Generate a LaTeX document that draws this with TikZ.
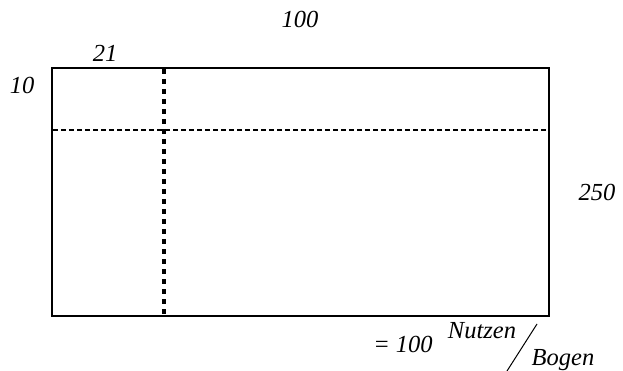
\documentclass[tikz,border=0pt]{standalone}
\usepackage{fontspec}
\setmainfont{Liberation Serif}
\begin{document}
\begin{tikzpicture}[x=1pt,y=-1pt,
  lbl/.style={font=\fontsize{24.5}{26}\selectfont\itshape,inner sep=0pt,anchor=base},
  frame/.style={line width=2pt},
  vcut/.style={line width=3.2pt,dash pattern=on 5pt off 5pt},
  hcut/.style={line width=1.6pt,dash pattern=on 5pt off 3pt}]
\useasboundingbox (0,0) rectangle (623,371);
\coordinate (tl) at (52,68);
\coordinate (br) at (549,316);
\draw[frame] (tl) rectangle (br);
\coordinate (vt) at (164,69);
\coordinate (vb) at (164,315);
\coordinate (hl) at (53,130);
\coordinate (hr) at (548,130);
\draw[vcut] (vt) -- (vb);
\draw[hcut] (hl) -- (hr);
\node[lbl] (w) at (300,28) {100};
\node[lbl] (a) at (105,62) {21};
\node[lbl] (b) at (22,94) {10};
\node[lbl] (h) at (597,201) {250};
\node[lbl] (eq) at (403,352) {= 100};
\node[lbl] (nu) at (482,338) {Nutzen};
\node[lbl] (bo) at (563,365) {Bogen};
\coordinate (s1) at (537,324);
\coordinate (s2) at (507,371);
\draw[line width=1pt] (s1) -- (s2);
\end{tikzpicture}
\end{document}
